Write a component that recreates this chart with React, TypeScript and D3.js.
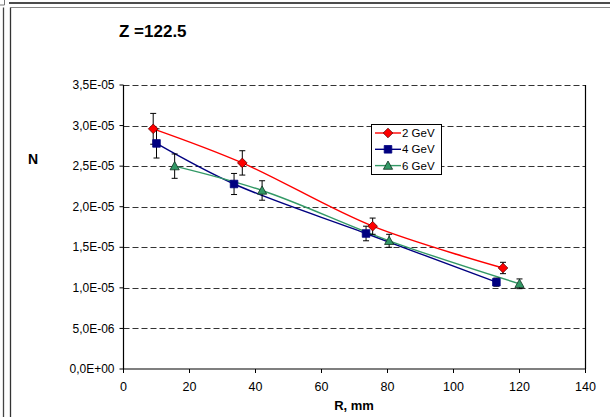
import React from "react";
import * as d3 from "d3";

// Radial profile of N at Z = 122.5 for three beam energies
const radius2GeV = [9, 36, 75.5, 115];
const values2GeV = [2.96e-5, 2.54e-5, 1.76e-5, 1.245e-5];
const errors2GeV = [1.9e-6, 1.5e-6, 1.0e-6, 0.7e-6];

const radius4GeV = [10, 33.5, 73.5, 113];
const values4GeV = [2.78e-5, 2.28e-5, 1.67e-5, 1.07e-5];
const errors4GeV = [1.8e-6, 1.3e-6, 0.9e-6, 0.5e-6];

const radius6GeV = [15.5, 42, 80.5, 120];
const values6GeV = [2.5e-5, 2.2e-5, 1.58e-5, 1.05e-5];
const errors6GeV = [1.5e-6, 1.2e-6, 0.8e-6, 0.6e-6];

const seriesNames = ["2 GeV", "4 GeV", "6 GeV"];
const xTicks = [0, 20, 40, 60, 80, 100, 120, 140];
const yTicks = [0, 5e-6, 1e-5, 1.5e-5, 2e-5, 2.5e-5, 3e-5, 3.5e-5];
const yTickLabels = ["0,0E+00", "5,0E-06", "1,0E-05", "1,5E-05", "2,0E-05", "2,5E-05", "3,0E-05", "3,5E-05"];

const W = 610;
const H = 417;
const plot = { left: 123.5, right: 585.5, top: 85, bottom: 369 };

const x = d3.scaleLinear().domain([0, 140]).range([plot.left, plot.right]);
const y = d3.scaleLinear().domain([0, 3.5e-5]).range([plot.bottom, plot.top]);

type Series = { name: string; color: string; fill: string; stroke: string; shape: "diamond" | "square" | "triangle"; r: number[]; v: number[]; e: number[] };

const series: Series[] = [
  { name: seriesNames[0], color: "#ff0000", fill: "#ff0000", stroke: "#600000", shape: "diamond", r: radius2GeV, v: values2GeV, e: errors2GeV },
  { name: seriesNames[1], color: "#000080", fill: "#000080", stroke: "#000080", shape: "square", r: radius4GeV, v: values4GeV, e: errors4GeV },
  { name: seriesNames[2], color: "#339966", fill: "#339966", stroke: "#103020", shape: "triangle", r: radius6GeV, v: values6GeV, e: errors6GeV },
];

function markerPath(shape: Series["shape"], cx: number, cy: number): string {
  if (shape === "diamond") {
    const s = 4.8;
    return `M${cx},${cy - s}L${cx + s},${cy}L${cx},${cy + s}L${cx - s},${cy}Z`;
  }
  if (shape === "square") {
    const s = 3.8;
    return `M${cx - s},${cy - s}H${cx + s}V${cy + s}H${cx - s}Z`;
  }
  const s = 4.6;
  return `M${cx},${cy - s}L${cx + s},${cy + s * 0.8}L${cx - s},${cy + s * 0.8}Z`;
}

const font = "Arial, 'Liberation Sans', sans-serif";

export default function App() {
  const line = d3
    .line<[number, number]>()
    .x((d) => x(d[0]))
    .y((d) => y(d[1]))
    .curve(d3.curveCatmullRom.alpha(0.5));

  const legend = { x: 371, y: 124, w: 70, h: 50 };

  return (
    <svg
      width={W}
      height={H}
      style={{ position: "absolute", left: 0, top: 0, background: "#fff" }}
      fontFamily={font}
    >
      {/* outer frame */}
      <line x1={0} y1={5} x2={4.5} y2={5} stroke="#777" strokeWidth={1} />
      <line x1={4.5} y1={0} x2={4.5} y2={5} stroke="#777" strokeWidth={1} />
      <line x1={9} y1={3} x2={W} y2={3} stroke="#111" strokeWidth={1.6} />
      <line x1={10.5} y1={7.5} x2={W} y2={7.5} stroke="#888" strokeWidth={1} />
      <line x1={3.5} y1={7.5} x2={3.5} y2={H} stroke="#444" strokeWidth={1.3} />
      <line x1={10.5} y1={7.5} x2={10.5} y2={H} stroke="#333" strokeWidth={1.3} />

      <text x={119} y={37} fontSize={17} fontWeight="bold" fill="#000">
        Z =122.5
      </text>

      {/* gridlines */}
      {yTicks.slice(1).map((t) => (
        <line
          key={`g${t}`}
          x1={plot.left}
          x2={plot.right}
          y1={Math.round(y(t)) + 0.5}
          y2={Math.round(y(t)) + 0.5}
          stroke="#333"
          strokeWidth={1}
          strokeDasharray="6,3"
        />
      ))}

      {/* axes */}
      <line x1={plot.left} x2={plot.left} y1={plot.top} y2={plot.bottom} stroke="#000" strokeWidth={1.2} />
      <line x1={plot.right} x2={plot.right} y1={plot.top} y2={plot.bottom} stroke="#000" strokeWidth={1.2} />
      <line x1={plot.left} x2={plot.right} y1={plot.bottom} y2={plot.bottom} stroke="#000" strokeWidth={1.2} />

      {yTicks.map((t, i) => (
        <g key={`yt${t}`}>
          <line x1={plot.left - 4} x2={plot.left} y1={y(t)} y2={y(t)} stroke="#000" />
          <text x={plot.left - 9} y={y(t)} dy="0.35em" textAnchor="end" fontSize={12} fill="#000">
            {yTickLabels[i]}
          </text>
        </g>
      ))}

      {xTicks.map((t) => (
        <g key={`xt${t}`}>
          <line x1={x(t)} x2={x(t)} y1={plot.bottom} y2={plot.bottom + 4} stroke="#000" />
          <text x={x(t)} y={391} textAnchor="middle" fontSize={12.5} fill="#000">
            {t}
          </text>
        </g>
      ))}

      <text x={354} y={410} textAnchor="middle" fontSize={13} fontWeight="bold" fill="#000">
        R, mm
      </text>
      <text x={33} y={164} textAnchor="middle" fontSize={14} fontWeight="bold" fill="#000">
        N
      </text>

      {/* series lines */}
      {series.map((s) => (
        <path
          key={`l${s.name}`}
          d={line(s.r.map((r, i) => [r, s.v[i]] as [number, number])) || ""}
          fill="none"
          stroke={s.color}
          strokeWidth={1.4}
        />
      ))}

      {/* error bars */}
      {series.map((s) =>
        s.r.map((r, i) => {
          const cx = x(r);
          const y1 = y(s.v[i] + s.e[i]);
          const y2 = y(s.v[i] - s.e[i]);
          return (
            <g key={`e${s.name}${i}`} stroke="#000" strokeWidth={1}>
              <line x1={cx} x2={cx} y1={y1} y2={y2} />
              <line x1={cx - 3} x2={cx + 3} y1={y1} y2={y1} />
              <line x1={cx - 3} x2={cx + 3} y1={y2} y2={y2} />
            </g>
          );
        })
      )}

      {/* markers */}
      {series.map((s) =>
        s.r.map((r, i) => (
          <path
            key={`m${s.name}${i}`}
            d={markerPath(s.shape, x(r), y(s.v[i]))}
            fill={s.fill}
            stroke={s.stroke}
            strokeWidth={0.8}
          />
        ))
      )}

      {/* legend */}
      <rect x={legend.x + 0.5} y={legend.y + 0.5} width={legend.w} height={legend.h} fill="#fff" stroke="#000" strokeWidth={1} />
      {series.map((s, i) => {
        const ly = legend.y + 9 + i * 16.3;
        return (
          <g key={`lg${s.name}`}>
            <line x1={legend.x + 4} x2={legend.x + 30} y1={ly} y2={ly} stroke={s.color} strokeWidth={1.4} />
            <path d={markerPath(s.shape, legend.x + 17, ly)} fill={s.fill} stroke={s.stroke} strokeWidth={0.8} />
            <text x={legend.x + 31} y={ly} dy="0.35em" fontSize={11.5} fill="#000">
              {s.name}
            </text>
          </g>
        );
      })}
    </svg>
  );
}
